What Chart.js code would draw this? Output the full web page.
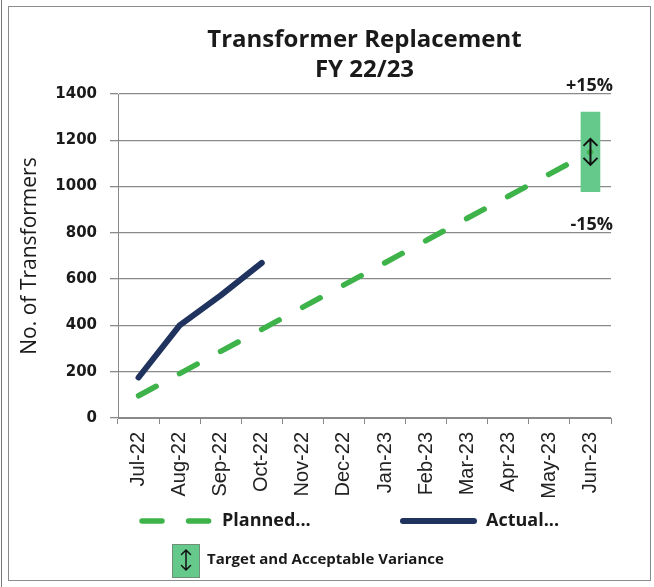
<!DOCTYPE html>
<html>
<head>
<meta charset="utf-8">
<script src="https://cdn.jsdelivr.net/npm/chart.js@4.4.0/dist/chart.umd.min.js"></script>
<style>
  html, body { margin: 0; padding: 0; background: #fff; }
  #wrap { position: relative; width: 654px; height: 587px; }
  #frame { position: absolute; left: 8px; top: 6px; width: 641px; height: 573px; border: 1px solid #8c8c8c; }
  #edge { position: absolute; left: 1px; top: 0; height: 587px; border-left: 1px solid #777; }
  canvas { position: absolute; left: 0; top: 0; }
</style>
</head>
<body>
<div id="wrap">
  <div id="edge"></div>
  <div id="frame"></div>
  <canvas id="chart" width="654" height="587"></canvas>
</div>
<script>
////////// Data //////////
const months = ['Jul-22', 'Aug-22', 'Sep-22', 'Oct-22', 'Nov-22', 'Dec-22',
  'Jan-23', 'Feb-23', 'Mar-23', 'Apr-23', 'May-23', 'Jun-23']
const planned = [96, 192, 288, 383, 479, 575, 671, 767, 863, 958, 1054, 1150]
const actual = [175, 400, 530, 670, null, null, null, null, null, null, null, null]
// target 1150, +/- 15%
const variance = [null, null, null, null, null, null, null, null, null, null, null, [978, 1322]]
const varianceLabels = ['+15%', '-15%']
const varianceLabelValues = [1400, 800]
const yMin = 0
const yMax = 1400
const yStep = 200

const plannedColor = '#3db34a'
const actualColor = '#1f335e'
const varianceColor = '#66c98c'
const textColor = '#1a1a1a'

////////// Helpers //////////
drawArrow = (ctx, cx, cy, half, head) => {
  ctx.beginPath()
  ctx.moveTo(cx, cy - half)
  ctx.lineTo(cx, cy + half)
  ctx.moveTo(cx - head, cy - half + head)
  ctx.lineTo(cx, cy - half)
  ctx.lineTo(cx + head, cy - half + head)
  ctx.moveTo(cx - head, cy + half - head)
  ctx.lineTo(cx, cy + half)
  ctx.lineTo(cx + head, cy + half - head)
  ctx.stroke()
}

////////// Plugins //////////
const varianceMarks = {
  id: 'varianceMarks',
  afterDatasetsDraw(chart) {
    const ctx = chart.ctx
    const yScale = chart.scales.y
    ctx.save()
    ctx.strokeStyle = '#111'
    ctx.lineWidth = 2
    chart.getDatasetMeta(2).data.forEach((bar, i) => {
      if (!variance[i]) return
      const p = bar.getProps(['x', 'y', 'base'], true)
      drawArrow(ctx, p.x, (p.y + p.base) / 2, 13, 7)
    })
    ctx.font = 'bold 18px "Open Sans"'
    ctx.fillStyle = textColor
    ctx.textAlign = 'right'
    ctx.textBaseline = 'alphabetic'
    varianceLabels.forEach((t, i) => {
      ctx.fillText(t, chart.chartArea.right + 2, yScale.getPixelForValue(varianceLabelValues[i]) - 3)
    })
    ctx.restore()
  }
}

const bottomLegend = {
  id: 'bottomLegend',
  afterDraw(chart) {
    const ctx = chart.ctx
    const ds = chart.data.datasets
    ctx.save()
    const lineItems = [
      {i: 0, x0: 139, x1: 213, y: 521},
      {i: 1, x0: 400, x1: 477, y: 521}
    ]
    lineItems.forEach(it => {
      const d = ds[it.i]
      ctx.strokeStyle = d.borderColor
      ctx.lineWidth = d.borderWidth
      ctx.lineCap = 'round'
      ctx.setLineDash(d.borderDash || [])
      ctx.beginPath()
      ctx.moveTo(it.x0 + 3, it.y)
      ctx.lineTo(it.x1 - 3, it.y)
      ctx.stroke()
      ctx.setLineDash([])
      ctx.fillStyle = textColor
      ctx.font = 'bold 18px "Open Sans"'
      ctx.textBaseline = 'middle'
      ctx.fillText(d.label, it.x1 + 9, it.y)
    })
    // variance box
    const v = ds[2]
    ctx.fillStyle = v.backgroundColor
    ctx.fillRect(172, 544, 27, 33)
    ctx.strokeStyle = '#6f8f78'
    ctx.lineWidth = 1
    ctx.strokeRect(172.5, 544.5, 27, 33)
    ctx.strokeStyle = '#111'
    ctx.lineWidth = 1.5
    drawArrow(ctx, 186, 560, 10, 4.5)
    ctx.fillStyle = textColor
    ctx.font = 'bold 15px "Open Sans"'
    ctx.textBaseline = 'middle'
    ctx.fillText(v.label, 207, 560)
    ctx.restore()
  }
}

////////// Chart //////////
const ctx = document.getElementById('chart').getContext('2d')

const chart = new Chart(ctx, {
  type: 'line',
  data: {
    labels: months,
    datasets: [{
      label: 'Planned...',
      data: planned,
      borderColor: plannedColor,
      backgroundColor: plannedColor,
      borderWidth: 5.5,
      borderDash: [20, 26.6],
      borderCapStyle: 'round',
      pointRadius: 0,
      tension: 0,
      order: 1
    }, {
      label: 'Actual...',
      data: actual,
      borderColor: actualColor,
      backgroundColor: actualColor,
      borderWidth: 6,
      borderCapStyle: 'round',
      borderJoinStyle: 'round',
      pointRadius: 0,
      tension: 0,
      order: 0
    }, {
      type: 'bar',
      label: 'Target and Acceptable Variance',
      data: variance,
      backgroundColor: varianceColor,
      borderWidth: 0,
      barThickness: 19,
      order: 2
    }]
  },
  options: {
    responsive: false,
    animation: false,
    layout: {
      padding: {left: 8, right: 43, top: 25, bottom: 69}
    },
    plugins: {
      legend: {display: false},
      tooltip: {enabled: false},
      title: {
        display: true,
        fullSize: false,
        text: ['Transformer Replacement', 'FY 22/23'],
        color: textColor,
        font: {family: '"Open Sans"', size: 24, weight: 'bold', lineHeight: 1.25},
        padding: {top: 0, bottom: 9}
      }
    },
    scales: {
      x: {
        offset: true,
        grid: {
          offset: true,
          drawOnChartArea: false,
          drawTicks: true,
          tickLength: 6,
          color: '#888'
        },
        border: {color: '#888'},
        ticks: {
          autoSkip: false,
          minRotation: 90,
          maxRotation: 90,
          padding: 8,
          color: '#222',
          font: {family: '"Liberation Sans"', size: 20}
        },
        afterFit: s => { s.height = 100 }
      },
      y: {
        min: yMin,
        max: yMax,
        grid: {
          color: '#8a8a8a',
          lineWidth: 1.3,
          tickLength: 8
        },
        border: {color: '#888'},
        ticks: {
          stepSize: yStep,
          padding: 13,
          color: textColor,
          font: {family: '"DejaVu Sans"', size: 15, weight: 'bold'},
          callback: v => String(v)
        },
        title: {
          display: true,
          text: 'No. of Transformers',
          color: textColor,
          font: {family: '"Open Sans"', size: 21},
          padding: {top: 9, bottom: 0}
        },
        afterFit: s => { s.width = 110 }
      }
    }
  },
  plugins: [varianceMarks, bottomLegend]
})
</script>
</body>
</html>
